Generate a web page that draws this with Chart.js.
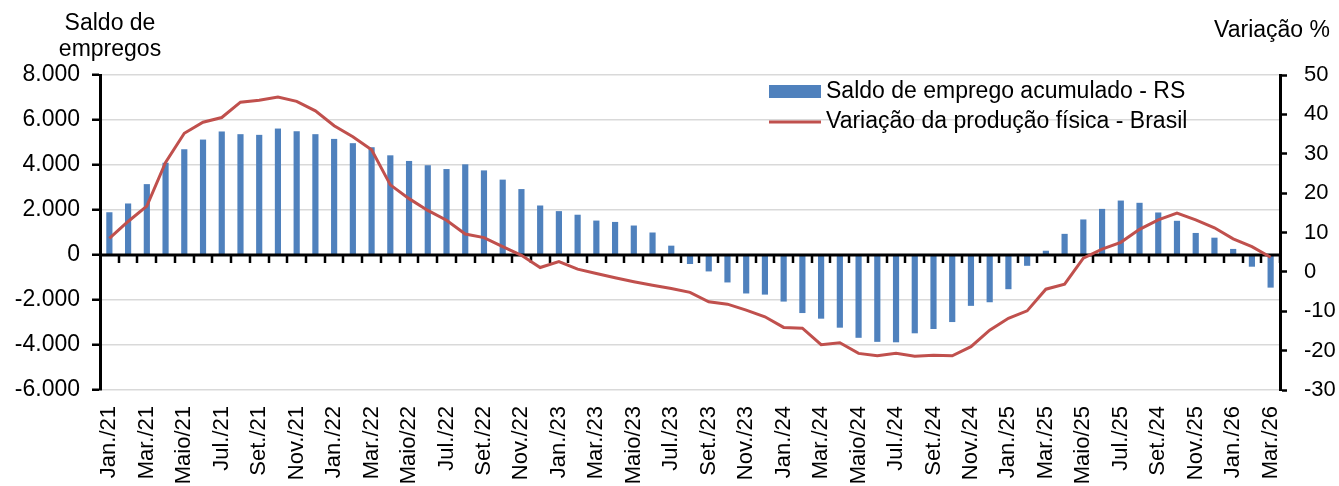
<!DOCTYPE html>
<html>
<head>
<meta charset="utf-8">
<script src="https://cdn.jsdelivr.net/npm/chart.js@4/dist/chart.umd.min.js"></script>
<style>
  html, body { margin: 0; padding: 0; background: #fff; }
  #wrap { width: 1339px; height: 486px; position: relative; }
</style>
</head>
<body>
<div id="wrap"><canvas id="chart" width="1339" height="486"></canvas></div>
<script>
// meses (rotulos do eixo x) - o original escreve "Set./24" no lugar de Set./25
var meses = [
  'Jan./21','Fev./21','Mar./21','Abr./21','Maio/21','Jun./21','Jul./21','Ago./21','Set./21','Out./21','Nov./21','Dez./21',
  'Jan./22','Fev./22','Mar./22','Abr./22','Maio/22','Jun./22','Jul./22','Ago./22','Set./22','Out./22','Nov./22','Dez./22',
  'Jan./23','Fev./23','Mar./23','Abr./23','Maio/23','Jun./23','Jul./23','Ago./23','Set./23','Out./23','Nov./23','Dez./23',
  'Jan./24','Fev./24','Mar./24','Abr./24','Maio/24','Jun./24','Jul./24','Ago./24','Set./24','Out./24','Nov./24','Dez./24',
  'Jan./25','Fev./25','Mar./25','Abr./25','Maio/25','Jun./25','Jul./25','Ago./25','Set./24','Out./25','Nov./25','Dez./25',
  'Jan./26','Fev./26','Mar./26'
];

var saldoEmprego = [
  1900, 2290, 3150, 4100, 4700, 5130, 5490, 5370, 5340, 5620,
  5500, 5370, 5160, 4970, 4790, 4430, 4180, 3990, 3820, 4030,
  3760, 3350, 2930, 2200, 1950, 1790, 1530, 1470, 1310, 1000,
  415, -400, -730, -1220, -1710, -1760, -2070, -2580, -2830, -3230,
  -3680, -3860, -3880, -3480, -3290, -2980, -2260, -2100, -1520, -480,
  190, 940, 1580, 2050, 2420, 2320, 1890, 1520, 980, 770,
  270, -520, -1450
];

var variacaoProducao = [
  8.5, 12.8, 16.7, 27.8, 35.2, 38.0, 39.2, 43.1, 43.6, 44.4,
  43.3, 40.9, 37.1, 34.3, 31.0, 22.1, 18.6, 15.6, 13.1, 9.6,
  8.7, 6.4, 4.2, 1.1, 2.6, 0.7, -0.4, -1.5, -2.5, -3.4,
  -4.2, -5.2, -7.6, -8.2, -9.7, -11.4, -14.1, -14.3, -18.5, -18.0,
  -20.7, -21.3, -20.7, -21.4, -21.2, -21.3, -19.0, -14.8, -11.8, -9.9,
  -4.4, -3.1, 3.5, 5.8, 7.5, 10.8, 13.2, 14.9, 13.2, 11.2,
  8.4, 6.4, 3.7
];

var ticksSaldo = [-6000, -4000, -2000, 0, 2000, 4000, 6000, 8000];
var ticksVariacao = [-30, -20, -10, 0, 10, 20, 30, 40, 50];

var AZUL = '#4F81BD';
var VERMELHO = '#C0504D';
var FONTE = '"Liberation Sans", Arial, sans-serif';

function milhar(v) {
  var s = Math.abs(v).toString().replace(/\B(?=(\d{3})+(?!\d))/g, '.');
  return (v < 0 ? '-' : '') + s;
}

// linha do zero com as marcas entre as categorias (eixo do Excel cruzando em 0)
var eixoZero = {
  id: 'eixoZero',
  afterDatasetDraw: function(chart, args) {
    if (args.index !== 0) return;
    var ctx = chart.ctx, x = chart.scales.x, y = chart.scales.y;
    var y0 = Math.round(y.getPixelForValue(0));
    var passo = x.getPixelForValue(1) - x.getPixelForValue(0);
    ctx.save();
    ctx.strokeStyle = '#000';
    ctx.lineWidth = 3;
    ctx.beginPath();
    ctx.moveTo(chart.chartArea.left, y0);
    ctx.lineTo(chart.chartArea.right, y0);
    ctx.stroke();
    ctx.lineWidth = 2.5;
    ctx.beginPath();
    for (var i = 1; i <= meses.length; i++) {
      var px = Math.round(x.getPixelForValue(i) - passo / 2);
      ctx.moveTo(px, y0);
      ctx.lineTo(px, y0 + 8);
    }
    ctx.stroke();
    ctx.restore();
  }
};

// titulos dos eixos e legenda
var textos = {
  id: 'textos',
  afterDraw: function(chart) {
    var ctx = chart.ctx;
    ctx.save();
    ctx.fillStyle = '#000';
    ctx.font = '23px ' + FONTE;
    ctx.textBaseline = 'middle';
    ctx.textAlign = 'center';
    ctx.fillText('Saldo de', 110, 24);
    ctx.fillText('empregos', 110, 50);
    ctx.fillText('Variação %', 1272, 31);

    ctx.textAlign = 'left';
    ctx.fillStyle = AZUL;
    ctx.fillRect(769, 85, 52, 13);
    ctx.strokeStyle = VERMELHO;
    ctx.lineWidth = 3;
    ctx.beginPath();
    ctx.moveTo(769, 122);
    ctx.lineTo(821, 122);
    ctx.stroke();
    ctx.fillStyle = '#000';
    ctx.fillText('Saldo de emprego acumulado - RS', 826, 92);
    ctx.fillText('Variação da produção física - Brasil', 826, 122);
    ctx.restore();
  }
};

var ctx = document.getElementById('chart').getContext('2d');
new Chart(ctx, {
  type: 'bar',
  data: {
    labels: meses,
    datasets: [
      {
        type: 'bar',
        label: 'Saldo de emprego acumulado - RS',
        data: saldoEmprego,
        backgroundColor: AZUL,
        yAxisID: 'y',
        barPercentage: 0.33,
        categoryPercentage: 1,
        order: 2
      },
      {
        type: 'line',
        label: 'Variação da produção física - Brasil',
        data: variacaoProducao,
        borderColor: VERMELHO,
        borderWidth: 3,
        pointRadius: 0,
        tension: 0,
        yAxisID: 'y1',
        order: 1
      }
    ]
  },
  options: {
    responsive: false,
    animation: false,
    devicePixelRatio: 1,
    layout: { padding: { top: 75, left: 0, right: 0, bottom: 0 } },
    plugins: {
      legend: { display: false },
      tooltip: { enabled: false }
    },
    scales: {
      x: {
        offset: true,
        grid: { display: false },
        border: { display: false },
        ticks: {
          autoSkip: false,
          minRotation: 90,
          maxRotation: 90,
          padding: 8,
          color: '#000',
          font: { family: FONTE, size: 22 },
          callback: function(v, i) { return i % 2 === 0 ? meses[i] : ''; }
        },
        afterFit: function(s) { s.height = 96; }
      },
      y: {
        position: 'left',
        min: -6000,
        max: 8000,
        afterBuildTicks: function(s) { s.ticks = ticksSaldo.map(function(v) { return { value: v }; }); },
        grid: { color: '#d9d9d9', lineWidth: 1.5, tickColor: '#000', tickLength: 8, tickWidth: 2.5 },
        border: { color: '#000', width: 3 },
        ticks: {
          padding: 12,
          color: '#000',
          font: { family: FONTE, size: 23 },
          callback: function(v) { return milhar(v); }
        },
        afterFit: function(s) { s.width = 100; }
      },
      y1: {
        position: 'right',
        min: -30,
        max: 50,
        afterBuildTicks: function(s) { s.ticks = ticksVariacao.map(function(v) { return { value: v }; }); },
        grid: { drawOnChartArea: false, tickColor: '#000', tickLength: 7, tickWidth: 2.5 },
        border: { color: '#000', width: 3 },
        ticks: {
          padding: 17,
          color: '#000',
          font: { family: FONTE, size: 22 }
        },
        afterFit: function(s) { s.width = 59; }
      }
    }
  },
  plugins: [eixoZero, textos]
});
</script>
</body>
</html>
